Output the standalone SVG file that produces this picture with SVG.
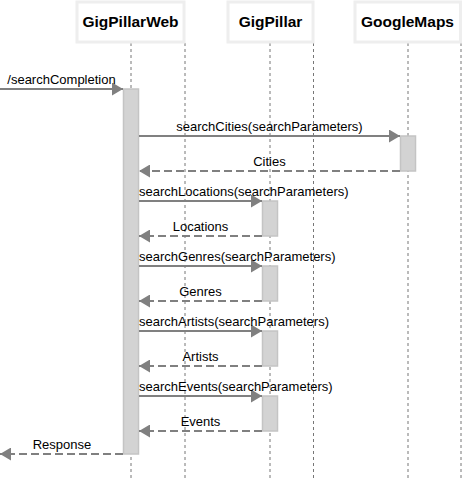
<svg xmlns="http://www.w3.org/2000/svg" width="462" height="480" viewBox="0 0 462 480">
<style>
.box{fill:#fff;stroke:#eeeeee;stroke-width:3}
.title{font-family:"Liberation Sans",Arial,sans-serif;font-size:15.5px;font-weight:bold;fill:#000;text-anchor:middle}
.life{stroke:#777;stroke-width:1;stroke-dasharray:3,3;fill:none}
.act{fill:#d3d3d3;stroke:#c4c4c4;stroke-width:1.5}
.msg{stroke:#808080;stroke-width:2;fill:none}
.ret{stroke:#808080;stroke-width:2;fill:none;stroke-dasharray:8,4}
.lbl{font-family:"Liberation Sans",Arial,sans-serif;font-size:13px;fill:#000}
.mid{text-anchor:middle}
.head{fill:#808080}
</style>
<defs>
<marker id="arr" viewBox="0 0 11 13" refX="11" refY="6.5" markerWidth="11" markerHeight="13" markerUnits="userSpaceOnUse" orient="auto">
<path d="M0,0 L11,6.5 L0,13 Z" class="head"/>
</marker>
</defs>
<g id="lifelines">
<line class="life" x1="131" y1="43" x2="131" y2="480"/>
<line class="life" x1="185" y1="43" x2="185" y2="480"/>
<line class="life" x1="270" y1="43" x2="270" y2="480"/>
<line class="life" x1="313.5" y1="43" x2="313.5" y2="480"/>
<line class="life" x1="408" y1="43" x2="408" y2="480"/>
<line class="life" x1="461" y1="43" x2="461" y2="480"/>
</g>
<g id="GigPillarWeb">
<rect class="box" x="77" y="2" width="107" height="40"/>
<text class="title" x="130.5" y="27">GigPillarWeb</text>
<rect class="act" x="123.5" y="89" width="15" height="365"/>
</g>
<g id="GigPillar">
<rect class="box" x="228" y="2" width="85" height="40"/>
<text class="title" x="270.5" y="27">GigPillar</text>
<rect class="act" x="262.5" y="201" width="15" height="35"/>
<rect class="act" x="262.5" y="266" width="15" height="35"/>
<rect class="act" x="262.5" y="331" width="15" height="35"/>
<rect class="act" x="262.5" y="396" width="15" height="35"/>
</g>
<g id="GoogleMaps">
<rect class="box" x="355" y="2" width="105.5" height="40"/>
<text class="title" x="407.5" y="27">GoogleMaps</text>
<rect class="act" x="400.5" y="136" width="15" height="35"/>
</g>
<g id="connectors">
<line class="msg" x1="0" y1="89" x2="123" y2="89" marker-end="url(#arr)"/>
<text class="lbl mid" x="61.5" y="84">/searchCompletion</text>
<line class="msg" x1="139" y1="136" x2="400" y2="136" marker-end="url(#arr)"/>
<text class="lbl mid" x="269.5" y="131">searchCities(searchParameters)</text>
<line class="ret" x1="400" y1="171" x2="139" y2="171" marker-end="url(#arr)"/>
<text class="lbl mid" x="269.5" y="166">Cities</text>
<line class="msg" x1="139" y1="201" x2="262" y2="201" marker-end="url(#arr)"/>
<text class="lbl" x="139" y="196">searchLocations(searchParameters)</text>
<line class="ret" x1="262" y1="236" x2="139" y2="236" marker-end="url(#arr)"/>
<text class="lbl mid" x="200.5" y="231">Locations</text>
<line class="msg" x1="139" y1="266" x2="262" y2="266" marker-end="url(#arr)"/>
<text class="lbl" x="139" y="261">searchGenres(searchParameters)</text>
<line class="ret" x1="262" y1="301" x2="139" y2="301" marker-end="url(#arr)"/>
<text class="lbl mid" x="200.5" y="296">Genres</text>
<line class="msg" x1="139" y1="331" x2="262" y2="331" marker-end="url(#arr)"/>
<text class="lbl" x="139" y="326">searchArtists(searchParameters)</text>
<line class="ret" x1="262" y1="366" x2="139" y2="366" marker-end="url(#arr)"/>
<text class="lbl mid" x="200.5" y="361">Artists</text>
<line class="msg" x1="139" y1="396" x2="262" y2="396" marker-end="url(#arr)"/>
<text class="lbl" x="139" y="391">searchEvents(searchParameters)</text>
<line class="ret" x1="262" y1="431" x2="139" y2="431" marker-end="url(#arr)"/>
<text class="lbl mid" x="200.5" y="426">Events</text>
<line class="ret" x1="123" y1="454" x2="0" y2="454" marker-end="url(#arr)"/>
<text class="lbl mid" x="62" y="449">Response</text>
</g>
</svg>
